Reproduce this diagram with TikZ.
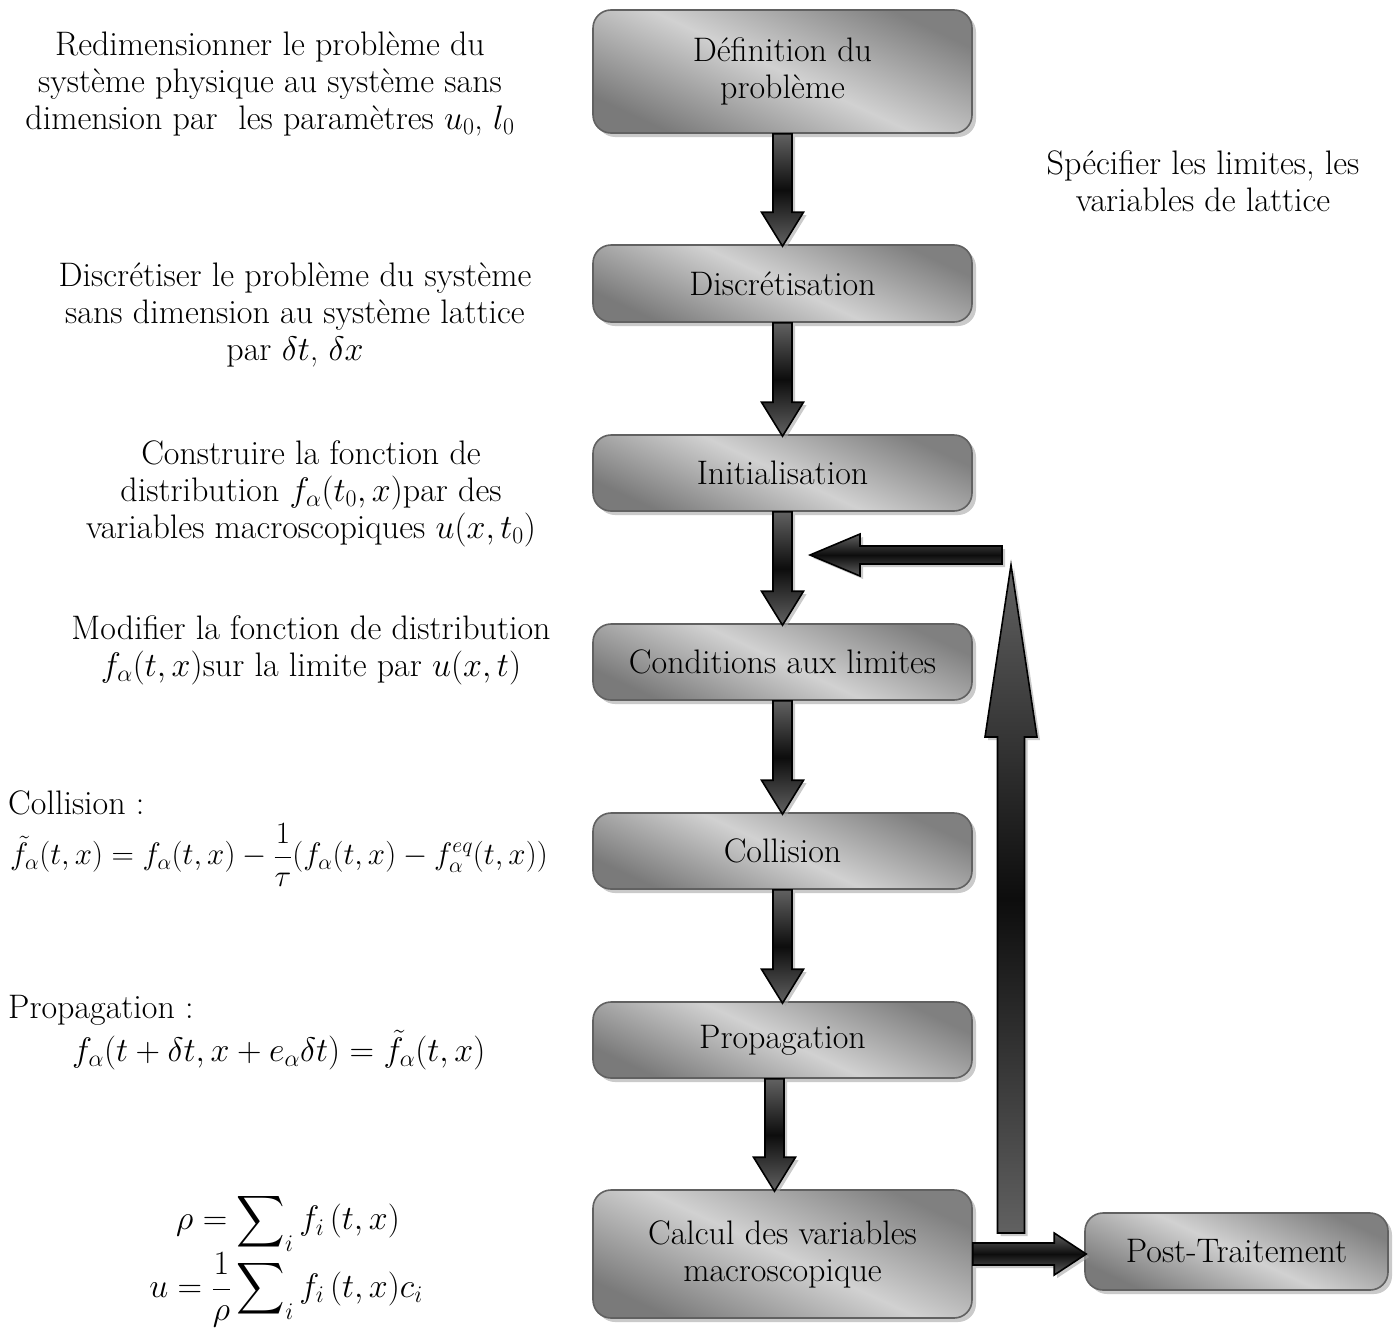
\RequirePackage{fix-cm}
\documentclass[tikz,border=0pt]{standalone}
\usepackage{exscale}
\usetikzlibrary{shadows,calc}
\newcommand\bsum{\mathop{\vcenter{\hbox{\scalebox{1.35}[1.45]{$\displaystyle\sum$}}}}\nolimits}
\tikzset{
  x=1pt, y=1pt,
  box/.style={draw=black!62, line width=1.6pt, rounded corners=18pt, minimum width=379pt,
    inner sep=0pt, align=center, font=\fontsize{34}{37}\selectfont,
    left color=black!50, right color=black!52, middle color=black!18, shading angle=-25,
    drop shadow={shadow xshift=4pt, shadow yshift=-4pt, fill=black!35, opacity=0.6}},
  arr/.style={draw=black, line width=1.6pt, line join=miter,
    top color=black!62, bottom color=black!62, middle color=black!95,
    drop shadow={shadow xshift=3pt, shadow yshift=-3pt, fill=black!35, opacity=0.6}},
  txt/.style={align=center, font=\fontsize{34}{37}\selectfont, inner sep=0pt},
}
\newcommand\vdown[3][0]{%
  \path[arr] let \p1=($(#2.south)+(#1,0)$), \p2=(#3.north) in
  (\x1-9.5pt,\y1) -- (\x1+9.5pt,\y1) -- (\x1+9.5pt,\y2+32pt) -- (\x1+21pt,\y2+32pt)
  -- (\x1,\y2-2pt) -- (\x1-21pt,\y2+32pt) -- (\x1-9.5pt,\y2+32pt) -- cycle;}
\begin{document}
\begin{tikzpicture}
\useasboundingbox (0,0) rectangle (1396,-1330);
% boxes
\node[box, minimum height=123pt] (b1) at (782.5,-71.5) {Définition du\\problème};
\node[box, minimum height=77pt] (b2) at (782.5,-283.5) {Discrétisation};
\node[box, minimum height=76pt] (b3) at (782.5,-473) {Initialisation};
\node[box, minimum height=76pt] (b4) at (782.5,-662) {Conditions aux limites};
\node[box, minimum height=76pt] (b5) at (782.5,-851) {Collision};
\node[box, minimum height=76pt] (b6) at (782.5,-1040) {Propagation};
\node[box, minimum height=128pt] (b7) at (782.5,-1254) {Calcul des variables\\macroscopique};
\node[box, minimum height=77pt, minimum width=303pt] (b8) at (1236.5,-1251.5) {Post-Traitement};
% down arrows
\vdown{b1}{b2}
\vdown{b2}{b3}
\vdown{b3}{b4}
\vdown{b4}{b5}
\vdown{b5}{b6}
\vdown[-8]{b6}{b7}
% loop arrows
\coordinate (ub) at (1011,-1233);
\coordinate (ut) at (1011,-565);
\coordinate (ls) at (1002,-555);
\coordinate (lt) at (810,-555);
\path[arr] let \p1=(ub), \p2=(ut) in
  (\x1-13.5pt,\y1) -- (\x1+13.5pt,\y1) -- (\x1+13.5pt,\y2-172pt) -- (\x1+26pt,\y2-172pt)
  -- (\x2,\y2) -- (\x1-26pt,\y2-172pt) -- (\x1-13.5pt,\y2-172pt) -- cycle;
\path[arr] let \p1=(ls), \p2=(lt) in
  (\x1,\y1+9pt) -- (\x1,\y1-9pt) -- (\x2+50pt,\y1-9pt) -- (\x2+50pt,\y1-21pt)
  -- (\x2,\y2) -- (\x2+50pt,\y1+21pt) -- (\x2+50pt,\y1+9pt) -- cycle;
\path[arr] let \p1=(b7.east), \p2=(b8.west) in
  (\x1,\y1+11pt) -- (\x2-30pt,\y1+11pt) -- (\x2-30pt,\y1+21pt) -- (\x2+2pt,\y1)
  -- (\x2-30pt,\y1-21pt) -- (\x2-30pt,\y1-11pt) -- (\x1,\y1-11pt) -- cycle;
% side texts
\node[txt] (t1) at (270,-84) {Redimensionner le problème du\\système physique au système sans\\dimension par~ les paramètres $u_0$, $l_0$};
\node[txt] (t2) at (295,-315) {Discrétiser le problème du système\\sans dimension au système lattice\\par $\delta t$, $\delta x$};
\node[txt] (t3) at (311,-494) {Construire la fonction de\\distribution $f_\alpha(t_0,x)$par des\\variables macroscopiques $u(x,t_0)$};
\node[txt] (t4) at (311,-650) {Modifier la fonction de distribution\\$f_\alpha(t,x)$sur la limite par $u(x,t)$};
\node[txt] (t5) at (1203,-181) {Spécifier les limites, les\\variables de lattice};
\node[txt, anchor=west] (c1) at (8,-803) {Collision :};
\node[txt, anchor=west, font=\fontsize{31}{37}\selectfont] (c2) at (10,-855) {$\displaystyle \tilde f_\alpha(t,x)=f_\alpha(t,x)-\frac{1}{\tau}(f_\alpha(t,x)-f_\alpha^{eq}(t,x))$};
\node[txt, anchor=west] (p1) at (8,-1010) {Propagation :};
\node[txt, anchor=west] (p2) at (72,-1050) {$f_\alpha(t+\delta t,x+e_\alpha\delta t)=\tilde f_\alpha(t,x)$};
\node[txt] (s1) at (288,-1222) {$\rho=\bsum_i f_i\,(t,x)$};
\node[txt] (s2) at (286,-1290) {$\displaystyle u=\frac{1}{\rho}\bsum_i f_i\,(t,x)c_i$};
\end{tikzpicture}
\end{document}
